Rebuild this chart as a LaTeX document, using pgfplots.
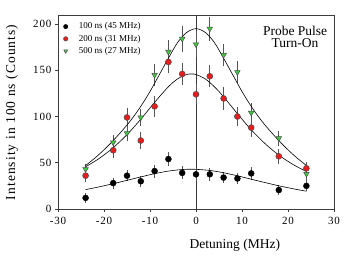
\documentclass[border=0pt]{standalone}
\usepackage{fontspec}
\setmainfont{Liberation Serif}
\usepackage{pgfplots}
\pgfplotsset{compat=1.18}
\definecolor{redpt}{RGB}{232,28,28}
\definecolor{greenpt}{RGB}{60,205,60}
\definecolor{ebar}{RGB}{85,85,85}
\definecolor{frame}{RGB}{60,60,60}
\begin{document}
\begin{tikzpicture}
\begin{axis}[
  scale only axis, width=276pt, height=193.3pt,
  xmin=-30, xmax=30, ymin=0, ymax=209,
  xtick={-30,-20,...,30}, ytick={0,50,...,200},
  xtick pos=left, ytick pos=left, tick align=outside,
  major tick length=3pt,
  axis line style={frame, line width=0.8pt},
  every tick/.style={frame, line width=0.6pt},
  /pgf/number format/assume math mode=true,
  tick label style={font=\fontsize{11}{13}\selectfont\addfontfeature{LetterSpace=8}},
  xticklabel style={yshift=-2pt},
  xlabel={Detuning (MHz)},
  ylabel={Intensity in 100 ns (Counts)},
  label style={font=\fontsize{13.5}{15}\selectfont},
  xlabel style={at={(axis description cs:0.641,-0.186)}, anchor=center},
  ylabel style={at={(axis description cs:-0.1667,0.5)}, anchor=center, font=\fontsize{13.5}{15}\selectfont\addfontfeature{LetterSpace=8}},
  legend style={draw=none, fill=none, at={(axis description cs:0.012,0.975)}, anchor=north west,
    font=\fontsize{9}{11}\selectfont, inner sep=0pt, row sep=0.5pt,
    /tikz/every even column/.append style={column sep=0pt}},
  legend cell align=left,
  legend image code/.code={\draw[#1, mark size=2.2pt] plot coordinates {(4pt,0pt)}; \path (0pt,0pt) (15pt,0pt);},
  error bars/error bar style={ebar, line width=0.8pt},
  error bars/error mark=none,
]
\draw[frame, line width=0.6pt] (axis cs:0,0) -- (axis cs:0,209);

% 100 ns
\addplot[only marks, mark=*, mark size=3pt, mark options={fill=black, draw=black},
  error bars/.cd, y dir=both, y explicit]
 coordinates {
 (-24,12) +- (0,5)
 (-18,28) +- (0,6)
 (-15,36) +- (0,6)
 (-12,30) +- (0,6)
 (-9,41) +- (0,7)
 (-6,54) +- (0,8)
 (-3,39) +- (0,7)
 (0,37.5) +- (0,7)
 (3,37.5) +- (0,7)
 (6,34) +- (0,6)
 (9,33) +- (0,6)
 (12,38.5) +- (0,7)
 (18,20.5) +- (0,5)
 (24,25) +- (0,6)
 };
\addlegendentry{100 ns (45 MHz)}

% 200 ns
\addplot[only marks, mark=*, mark size=3pt, mark options={fill=redpt, draw=black!70, line width=0.5pt},
  error bars/.cd, y dir=both, y explicit]
 coordinates {
 (-24,36) +- (0,7)
 (-18,63.5) +- (0,8)
 (-15,99) +- (0,10)
 (-12,74) +- (0,9)
 (-9,111) +- (0,11)
 (-6,159) +- (0,12)
 (-3,146) +- (0,12)
 (0,124) +- (0,11)
 (3,143.5) +- (0,12)
 (6,119.5) +- (0,12)
 (9,100) +- (0,10)
 (12,88) +- (0,10)
 (18,57) +- (0,8)
 (24,44) +- (0,7)
 };
\addlegendentry{200 ns (31 MHz)}

% 500 ns
\addplot[only marks, mark=triangle*, mark size=3.2pt, mark options={rotate=180, fill=greenpt, draw=black!70, line width=0.5pt},
  error bars/.cd, y dir=both, y explicit]
 coordinates {
 (-24,43) +- (0,6)
 (-18,72) +- (0,8)
 (-15,82) +- (0,9)
 (-12,99) +- (0,9)
 (-9,145) +- (0,12)
 (-6,170) +- (0,13)
 (-3,184) +- (0,14)
 (0,178) +- (0,14)
 (3,195) +- (0,13)
 (6,166.5) +- (0,12)
 (9,148) +- (0,12)
 (12,104) +- (0,11)
 (18,76.5) +- (0,8)
 (24,38) +- (0,7)
 };
\addlegendentry{500 ns (27 MHz)}

% fit curves
\addplot[black, line width=0.6pt, smooth, forget plot] coordinates {
 (-24,21.0) (-21,24.0) (-18,27.4) (-15,31.0) (-12,34.7) (-9,38.2) (-6,41.0) (-3,42.7) (-1,43.0)
 (0,42.9) (3,41.7) (6,39.2) (9,35.9) (12,32.2) (15,28.6) (18,25.1) (21,22.0) (24,19.2)};
\addplot[black, line width=0.6pt, smooth, forget plot] coordinates {
 (-24,45.6) (-21,54.8) (-18,66.3) (-15,80.4) (-12,97.1) (-9,115.3) (-6,132.2) (-4,140.7) (-2,145.4) (-1,146)
 (0,145.4) (2,140.7) (4,132.2) (6,121.3) (9,103.1) (12,85.7) (15,70.7) (18,58.3) (21,48.4) (24,40.5)};
\addplot[black, line width=0.6pt, smooth, forget plot] coordinates {
 (-24,47) (-22,55) (-20,64) (-18,74) (-16,85) (-14,97) (-12,111) (-10,127) (-8,145) (-6,163) (-4,180) (-2,191) (0,195)
 (2,191) (4,180) (6,163) (8,145) (10,127) (12,111) (14,97) (16,85) (18,74) (20,64) (22,55) (24,47)};

\node[align=center, font=\fontsize{13.5}{12.6}\selectfont] at (axis description cs:0.859,0.89) {Probe Pulse\\Turn-On};
\end{axis}
\pgfresetboundingbox
\path ([shift={(-58pt,-50pt)}]current axis.south west) rectangle ([shift={(15pt,15.7pt)}]current axis.north east);
\end{tikzpicture}
\end{document}
